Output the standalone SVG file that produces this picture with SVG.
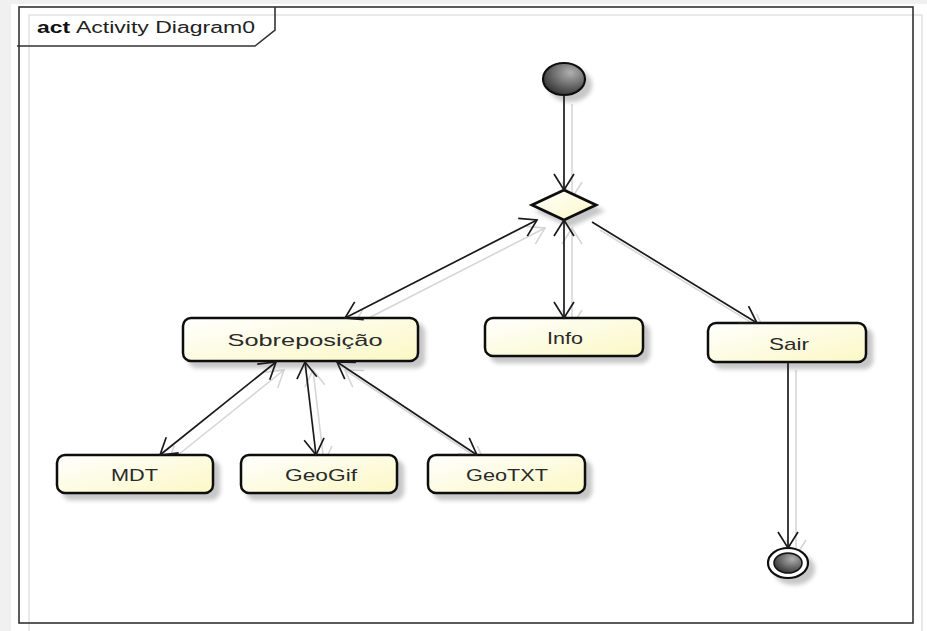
<svg xmlns="http://www.w3.org/2000/svg" width="927" height="631" viewBox="0 0 927 631">
<style>
.node rect{fill:url(#ng);stroke:#111;stroke-width:2.5;filter:url(#sh)}
.lbl{font-family:"Liberation Sans",Arial,sans-serif;font-size:17px;fill:#2a2a2a;text-anchor:middle}
.c{fill:none;stroke:#1a1a1a;stroke-width:1.7}
.s{fill:none;stroke:#d6d6d6;stroke-width:1.6}
</style>
<defs>
<linearGradient id="ng" x1="0" y1="0" x2="1" y2="1">
<stop offset="0" stop-color="#ffffff"/>
<stop offset="1" stop-color="#fbf8c4"/>
</linearGradient>
<radialGradient id="dg" cx="0.65" cy="0.3" r="0.8">
<stop offset="0" stop-color="#b0b0b0"/>
<stop offset="1" stop-color="#2a2a2a"/>
</radialGradient>
<filter id="sh" x="-20%" y="-20%" width="150%" height="160%">
<feDropShadow dx="6" dy="6" stdDeviation="2" flood-color="#000" flood-opacity="0.22"/>
</filter>
<marker id="a" viewBox="-17 -11 19 22" markerWidth="19" markerHeight="22" refX="0" refY="0" orient="auto-start-reverse" markerUnits="userSpaceOnUse">
<path d="M-16,-10 L0,0 L-16,10" fill="none" stroke="#1a1a1a" stroke-width="1.7"/>
</marker>
<marker id="ag" viewBox="-17 -11 19 22" markerWidth="19" markerHeight="22" refX="0" refY="0" orient="auto-start-reverse" markerUnits="userSpaceOnUse">
<path d="M-16,-10 L0,0 L-16,10" fill="none" stroke="#d6d6d6" stroke-width="1.6"/>
</marker>
</defs>
<rect x="0" y="0" width="927" height="631" fill="#f0f0f0"/>
<rect x="11" y="4" width="916" height="627" fill="#ffffff"/>
<rect x="29" y="15" width="893" height="630" fill="none" stroke="#e2e2e2" stroke-width="1.5"/>
<g id="frame">
<rect x="19" y="7" width="894" height="616" fill="none" stroke="#333" stroke-width="1.6"/>
<path d="M17,46 L255,46 L275,30 L275,7" fill="none" stroke="#333" stroke-width="1.6"/>
<text x="37" y="33" font-family="'Liberation Sans',Arial,sans-serif" font-size="16" font-weight="bold" fill="#111" textLength="33" lengthAdjust="spacingAndGlyphs">act</text>
<text x="76" y="33" font-family="'Liberation Sans',Arial,sans-serif" font-size="16" fill="#222" textLength="179" lengthAdjust="spacingAndGlyphs">Activity Diagram0</text>
</g>
<g id="connector-shadows">
<path class="s" d="M572,104 L572,198" marker-end="url(#ag)"/>
<path class="s" d="M545,228 L353,326" marker-start="url(#ag)" marker-end="url(#ag)"/>
<path class="s" d="M572,228 L572,326" marker-start="url(#ag)" marker-end="url(#ag)"/>
<path class="s" d="M600,230 L765,331" marker-end="url(#ag)"/>
<path class="s" d="M796,370 L796,556" marker-end="url(#ag)"/>
<path class="s" d="M284,370 L168,463" marker-start="url(#ag)" marker-end="url(#ag)"/>
<path class="s" d="M313,370 L324,463" marker-start="url(#ag)" marker-end="url(#ag)"/>
<path class="s" d="M345,370 L485,463" marker-start="url(#ag)" marker-end="url(#ag)"/>
</g>
<g id="initial">
<ellipse cx="564" cy="79" rx="21" ry="16" fill="url(#dg)" stroke="#111" stroke-width="2.2" filter="url(#sh)"/>
</g>
<g id="decision">
<polygon points="564,190 596,205 564,220 532,205" fill="url(#ng)" stroke="#111" stroke-width="2.8" filter="url(#sh)"/>
</g>
<g id="sobreposicao" class="node">
<rect x="183" y="318" width="235" height="43" rx="8"/>
<text class="lbl" x="305" y="346" textLength="155" lengthAdjust="spacingAndGlyphs">Sobreposição</text>
</g>
<g id="info" class="node">
<rect x="485" y="318" width="158" height="38" rx="8"/>
<text class="lbl" x="565" y="344" textLength="36" lengthAdjust="spacingAndGlyphs">Info</text>
</g>
<g id="sair" class="node">
<rect x="708" y="323" width="158" height="39" rx="8"/>
<text class="lbl" x="789" y="350" textLength="40" lengthAdjust="spacingAndGlyphs">Sair</text>
</g>
<g id="mdt" class="node">
<rect x="57" y="455" width="156" height="38" rx="8"/>
<text class="lbl" x="134.5" y="481" textLength="47" lengthAdjust="spacingAndGlyphs">MDT</text>
</g>
<g id="geogif" class="node">
<rect x="241" y="455" width="156" height="38" rx="8"/>
<text class="lbl" x="321" y="481" textLength="72" lengthAdjust="spacingAndGlyphs">GeoGif</text>
</g>
<g id="geotxt" class="node">
<rect x="428" y="455" width="157" height="38" rx="8"/>
<text class="lbl" x="507" y="481" textLength="82" lengthAdjust="spacingAndGlyphs">GeoTXT</text>
</g>
<g id="final">
<ellipse cx="788" cy="563" rx="20" ry="15" fill="#fff" stroke="#111" stroke-width="2.2" filter="url(#sh)"/>
<ellipse cx="788" cy="563" rx="14" ry="10" fill="url(#dg)" stroke="#111" stroke-width="1.5"/>
</g>
<g id="connectors">
<path class="c" d="M564,95 L564,190" marker-end="url(#a)"/>
<path class="c" d="M537,220 L345,318" marker-start="url(#a)" marker-end="url(#a)"/>
<path class="c" d="M564,220 L564,318" marker-start="url(#a)" marker-end="url(#a)"/>
<path class="c" d="M592,222 L757,323" marker-end="url(#a)"/>
<path class="c" d="M788,362 L788,548" marker-end="url(#a)"/>
<path class="c" d="M276,362 L160,455" marker-start="url(#a)" marker-end="url(#a)"/>
<path class="c" d="M305,362 L316,455" marker-start="url(#a)" marker-end="url(#a)"/>
<path class="c" d="M337,362 L477,455" marker-start="url(#a)" marker-end="url(#a)"/>
</g>
</svg>
